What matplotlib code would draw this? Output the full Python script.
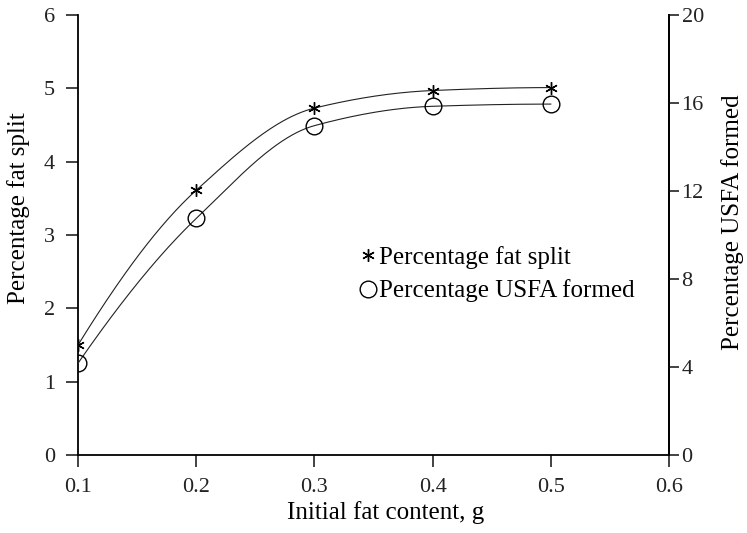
import matplotlib

matplotlib.use("Agg")
import matplotlib.pyplot as plt
import numpy as np

# data
fat_content = [0.1, 0.2, 0.3, 0.4, 0.5]
fat_split = [1.50, 3.61, 4.73, 4.97, 5.01]          # left axis, %
usfa_formed = [4.17, 10.75, 14.97, 15.85, 15.95]     # right axis, %

x_ticks = [0.1, 0.2, 0.3, 0.4, 0.5, 0.6]
left_ticks = [0, 1, 2, 3, 4, 5, 6]
right_ticks = [0, 4, 8, 12, 16, 20]


def _pchip(x, y, xs):
    """Monotone cubic (Fritsch-Carlson) curve through the points, for the smooth line."""
    x = np.asarray(x, float)
    y = np.asarray(y, float)
    h = np.diff(x)
    d = np.diff(y) / h
    m = np.zeros_like(y)
    for k in range(1, len(y) - 1):
        if d[k - 1] * d[k] > 0:
            w1 = 2 * h[k] + h[k - 1]
            w2 = h[k] + 2 * h[k - 1]
            m[k] = (w1 + w2) / (w1 / d[k - 1] + w2 / d[k])
    m[0] = ((2 * h[0] + h[1]) * d[0] - h[0] * d[1]) / (h[0] + h[1])
    if np.sign(m[0]) != np.sign(d[0]):
        m[0] = 0
    m[-1] = ((2 * h[-1] + h[-2]) * d[-1] - h[-1] * d[-2]) / (h[-1] + h[-2])
    if np.sign(m[-1]) != np.sign(d[-1]):
        m[-1] = 0
    idx = np.clip(np.searchsorted(x, xs) - 1, 0, len(x) - 2)
    t = (xs - x[idx]) / h[idx]
    h00 = 2 * t**3 - 3 * t**2 + 1
    h10 = t**3 - 2 * t**2 + t
    h01 = -2 * t**3 + 3 * t**2
    h11 = t**3 - t**2
    return h00 * y[idx] + h10 * h[idx] * m[idx] + h01 * y[idx + 1] + h11 * h[idx] * m[idx + 1]


plt.rcParams["font.family"] = ["Liberation Serif", "DejaVu Serif"]
plt.rcParams["font.size"] = 18

fig = plt.figure(figsize=(7.47, 5.33), dpi=100)
ax = fig.add_axes([0.1044, 0.1463, 0.7912, 0.8256])
ax2 = ax.twinx()

xs = np.linspace(fat_content[0], fat_content[-1], 200)
ax.plot(xs, _pchip(fat_content, fat_split, xs), color="#222222", linewidth=0.8)
ax2.plot(xs, _pchip(fat_content, usfa_formed, xs), color="#222222", linewidth=0.8)

star = ax.plot(fat_content, fat_split, linestyle="none", marker=(6, 2, 0),
               markersize=9, color="black", markeredgewidth=1.0,
               label="Percentage fat split")[0]
circ = ax2.plot(fat_content, usfa_formed, linestyle="none", marker="o",
                markersize=12, markerfacecolor="none", markeredgecolor="black",
                markeredgewidth=1.0, label="Percentage USFA formed")[0]

ax.set_xlim(0.1, 0.6)
ax.set_ylim(0, 6)
ax2.set_ylim(0, 20)
ax.set_xticks(x_ticks)
ax.set_xticklabels([f"{v:.1f}" for v in x_ticks])
ax.set_yticks(left_ticks)
ax2.set_yticks(right_ticks)

for a in (ax, ax2):
    a.spines["top"].set_visible(False)
    for s in a.spines.values():
        s.set_linewidth(1.3)
    a.tick_params(direction="out", length=8.5, width=1.2, colors="#222222", labelsize=16)
ax2.spines["left"].set_visible(False)
ax2.spines["bottom"].set_visible(False)
ax.tick_params(axis="x", pad=8)
ax.tick_params(axis="y", pad=8)
ax2.tick_params(axis="y", length=7.5, pad=1.5)

ax.set_xlabel("Initial fat content, g")
ax.set_ylabel("Percentage fat split")
ax2.set_ylabel("Percentage USFA formed")
ax.xaxis.set_label_coords(0.521, -0.105)
ax.yaxis.set_label_coords(-0.081, 0.56)
ax2.yaxis.set_label_coords(1.088, 0.530)

fig.legend(handles=[star, circ], loc="upper left",
           bbox_to_anchor=(359 / 747, 1 - 246 / 533),
           frameon=False, handlelength=0.7, handletextpad=0.1, borderpad=0,
           borderaxespad=0, labelspacing=0.42, fontsize=18)

fig.savefig("out.png", dpi=100)
